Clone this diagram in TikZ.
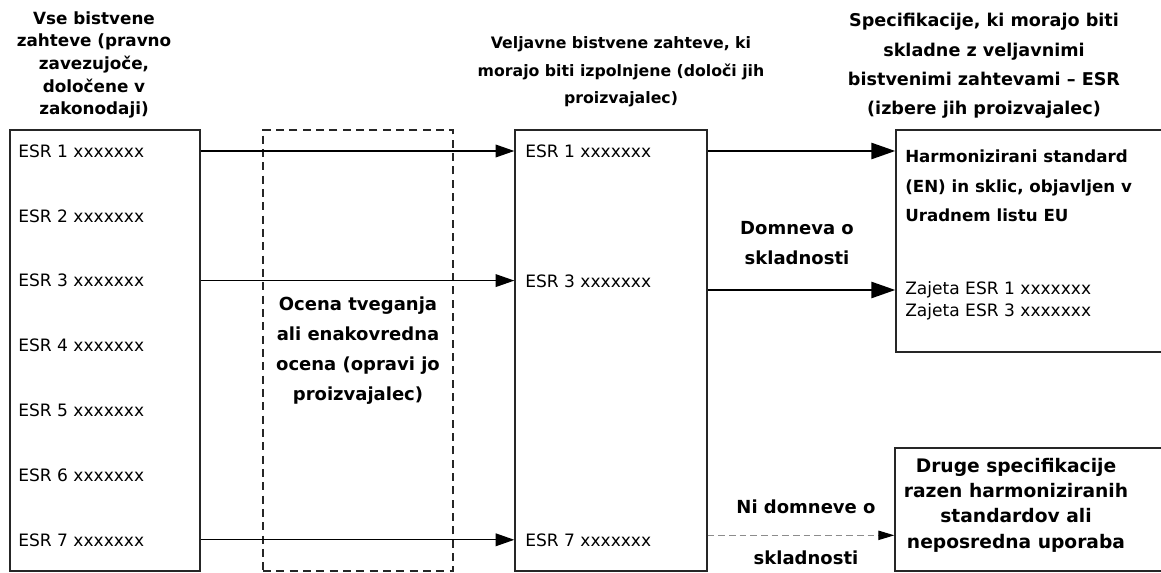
\documentclass[tikz,border=0pt]{standalone}
\usepackage{fontspec}
\setmainfont{DejaVu Sans}
\usetikzlibrary{arrows.meta, positioning, fit}

\begin{document}
\begin{tikzpicture}[
        x=0.75pt, y=-0.75pt,
        box/.style={draw=black!85, line width=1pt, inner sep=0pt},
        riskbox/.style={box, dash pattern=on 6pt off 4pt},
        entry/.style={anchor=west, inner sep=0pt, font=\fontsize{12.8}{15}\selectfont},
        heading/.style 2 args={align=center, inner sep=0pt, font=\bfseries\fontsize{#1}{#2}\selectfont},
        arrowstyle/.style={-{Triangle[length=14pt, width=9.5pt]}, line width=1pt, color=black},
        thickarrow/.style={-{Triangle[length=18pt, width=12pt]}, line width=2pt, color=black},
        grayarrow/.style={-{Triangle[length=12pt, width=7pt, color=black]}, line width=0.8pt, color=black!45, dash pattern=on 5pt off 3pt}
    ]
        \clip (0,0) rectangle (1161,573);

        % Boxes
        \node[box, fit={(10,130) (200,571)}] (allreq) {};
        \node[riskbox, fit={(263,130) (453,571)}] (risk) {};
        \node[box, fit={(515,130) (707,571)}] (valid) {};
        \node[box, fit={(896,130) (1180,352)}] (harm) {};
        \node[box, fit={(895,448) (1180,571)}] (other) {};

        % Headings
        \node[heading={12.6}{17pt}] (hall) at (94,65) {Vse bistvene\\zahteve (pravno\\zavezujoče,\\določene v\\zakonodaji)};
        \node[heading={11.8}{20.5pt}] (hvalid) at (621,72) {Veljavne bistvene zahteve, ki\\morajo biti izpolnjene (določi jih\\proizvajalec)};
        \node[heading={13.2}{22pt}] (hspec) at (984,66) {Specifikacije, ki morajo biti\\skladne z veljavnimi\\bistvenimi zahtevami -- ESR\\(izbere jih proizvajalec)};

        % Left Column
        \foreach \i in {1,...,7}
            \node[entry] (l\i) at (18, {151+64.8*(\i-1)}) {ESR \i{} xxxxxxx};

        \node[heading={13.5}{22.5pt}] (risktext) at (358,351) {Ocena tveganja\\ali enakovredna\\ocena (opravi jo\\proizvajalec)};

        % Middle Column
        \node[entry] (m1) at (525,151) {ESR 1 xxxxxxx};
        \node[entry] (m3) at (525,281) {ESR 3 xxxxxxx};
        \node[entry] (m7) at (525,540) {ESR 7 xxxxxxx};

        % Right Column
        \node[heading={12.5}{22pt}, align=left, anchor=west] (harmtext) at (905,186) {Harmonizirani standard\\(EN) in sklic, objavljen v\\Uradnem listu EU};
        \node[entry] (z1) at (905,290) {Zajeta ESR 1 xxxxxxx};
        \node[entry] (z3) at (905,312) {Zajeta ESR 3 xxxxxxx};
        \node[heading={14}{19pt}] (othertext) at (1016,505) {Druge specifikacije\\razen harmoniziranih\\standardov ali\\neposredna uporaba};

        \node[heading={13.5}{22.5pt}] (yes) at (797,243) {Domneva o\\skladnosti};
        \node[heading={13.5}{18pt}] (no1) at (806,507) {Ni domneve o};
        \node[heading={13.5}{18pt}] (no2) at (806,558) {skladnosti};

        % Flow
        \draw[arrowstyle] (allreq.east |- l1) -- (valid.west |- l1);
        \draw[arrowstyle] (allreq.east |- l3) -- (valid.west |- l3);
        \draw[arrowstyle] (allreq.east |- l7) -- (valid.west |- l7);
        \draw[thickarrow] (valid.east |- m1) -- (harm.west |- m1);
        \draw[thickarrow] (valid.east |- z1) -- (harm.west |- z1);
        \draw[grayarrow] ([yshift=3.5pt]valid.east |- m7) -- ([yshift=3.5pt]other.west |- m7);
    \end{tikzpicture}
\end{document}
